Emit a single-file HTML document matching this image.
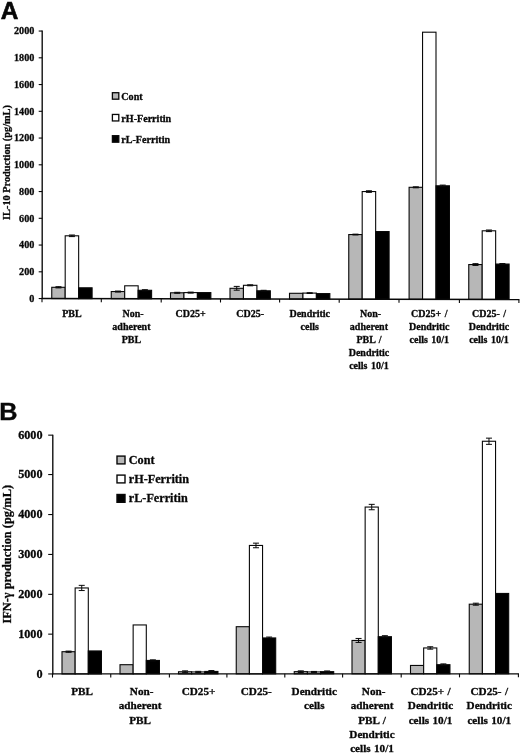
<!DOCTYPE html>
<html><head><meta charset="utf-8"><title>Figure</title>
<style>
html,body{margin:0;padding:0;background:#fff;}
body{width:520px;height:754px;overflow:hidden;font-family:"Liberation Serif",serif;}
svg{display:block;}
text{font-kerning:normal;}
</style></head><body>
<svg width="520" height="754" viewBox="0 0 520 754">
<defs><filter id="soft" x="0" y="0" width="520" height="754" filterUnits="userSpaceOnUse" color-interpolation-filters="sRGB"><feGaussianBlur stdDeviation="0.38"/></filter><filter id="softs" x="0" y="0" width="520" height="754" filterUnits="userSpaceOnUse" color-interpolation-filters="sRGB"><feGaussianBlur stdDeviation="0.22"/></filter></defs>
<rect width="520" height="754" fill="#fff"/>
<g filter="url(#softs)">
<path d="M42.2 30.55V299.05" stroke="#080808" stroke-width="1.35" fill="none"/>
<path d="M38.7 298.55H42.2" stroke="#080808" stroke-width="1.1" fill="none"/>
<path d="M38.7 271.8H42.2" stroke="#080808" stroke-width="1.1" fill="none"/>
<path d="M38.7 245.05H42.2" stroke="#080808" stroke-width="1.1" fill="none"/>
<path d="M38.7 218.3H42.2" stroke="#080808" stroke-width="1.1" fill="none"/>
<path d="M38.7 191.55H42.2" stroke="#080808" stroke-width="1.1" fill="none"/>
<path d="M38.7 164.8H42.2" stroke="#080808" stroke-width="1.1" fill="none"/>
<path d="M38.7 138.05H42.2" stroke="#080808" stroke-width="1.1" fill="none"/>
<path d="M38.7 111.3H42.2" stroke="#080808" stroke-width="1.1" fill="none"/>
<path d="M38.7 84.55H42.2" stroke="#080808" stroke-width="1.1" fill="none"/>
<path d="M38.7 57.8H42.2" stroke="#080808" stroke-width="1.1" fill="none"/>
<path d="M38.7 31.05H42.2" stroke="#080808" stroke-width="1.1" fill="none"/>
<rect x="51.75" y="287.3" width="13.45" height="11.27" fill="#b7b7b7" stroke="#080808" stroke-width="1.1"/>
<rect x="65.2" y="235.8" width="13.45" height="62.8" fill="#fff" stroke="#080808" stroke-width="1.1"/>
<rect x="78.65" y="287.8" width="13.45" height="10.82" fill="#000" stroke="#080808" stroke-width="1.1"/>
<path d="M58.48 286.7V287.9M55.48 286.7H61.48M55.48 287.9H61.48" stroke="#080808" stroke-width="1" fill="none"/>
<path d="M71.92 235V236.6M68.92 235H74.92M68.92 236.6H74.92" stroke="#080808" stroke-width="1" fill="none"/>
<rect x="111.25" y="291.55" width="13.45" height="7.14" fill="#b7b7b7" stroke="#080808" stroke-width="1.1"/>
<rect x="124.7" y="285.8" width="13.45" height="12.91" fill="#fff" stroke="#080808" stroke-width="1.1"/>
<rect x="138.15" y="290.3" width="13.45" height="8.44" fill="#000" stroke="#080808" stroke-width="1.1"/>
<path d="M117.97 291.05V292.05M114.97 291.05H120.97M114.97 292.05H120.97" stroke="#080808" stroke-width="1" fill="none"/>
<path d="M144.88 289.7V290.9M141.88 289.7H147.88M141.88 290.9H147.88" stroke="#080808" stroke-width="1" fill="none"/>
<rect x="170.5" y="292.8" width="13.45" height="6.01" fill="#b7b7b7" stroke="#080808" stroke-width="1.1"/>
<rect x="183.95" y="292.6" width="13.45" height="6.23" fill="#fff" stroke="#080808" stroke-width="1.1"/>
<rect x="197.4" y="292.6" width="13.45" height="6.26" fill="#000" stroke="#080808" stroke-width="1.1"/>
<path d="M177.22 292.3V293.3M174.22 292.3H180.22M174.22 293.3H180.22" stroke="#080808" stroke-width="1" fill="none"/>
<path d="M190.67 292.1V293.1M187.67 292.1H193.67M187.67 293.1H193.67" stroke="#080808" stroke-width="1" fill="none"/>
<rect x="230" y="288.3" width="13.45" height="10.62" fill="#b7b7b7" stroke="#080808" stroke-width="1.1"/>
<rect x="243.45" y="285.3" width="13.45" height="13.65" fill="#fff" stroke="#080808" stroke-width="1.1"/>
<rect x="256.9" y="290.8" width="13.45" height="8.18" fill="#000" stroke="#080808" stroke-width="1.1"/>
<path d="M236.72 286.4V290.2M233.72 286.4H239.72M233.72 290.2H239.72" stroke="#080808" stroke-width="1" fill="none"/>
<path d="M250.17 284.8V285.8M247.17 284.8H253.17M247.17 285.8H253.17" stroke="#080808" stroke-width="1" fill="none"/>
<path d="M263.62 290.3V291.3M260.62 290.3H266.62M260.62 291.3H266.62" stroke="#080808" stroke-width="1" fill="none"/>
<rect x="289.5" y="293.3" width="13.45" height="5.74" fill="#b7b7b7" stroke="#080808" stroke-width="1.1"/>
<rect x="302.95" y="293.1" width="13.45" height="5.97" fill="#fff" stroke="#080808" stroke-width="1.1"/>
<rect x="316.4" y="293.6" width="13.45" height="5.5" fill="#000" stroke="#080808" stroke-width="1.1"/>
<path d="M309.68 292.7V293.5M306.68 292.7H312.68M306.68 293.5H312.68" stroke="#080808" stroke-width="1" fill="none"/>
<rect x="348.75" y="234.55" width="13.45" height="64.61" fill="#b7b7b7" stroke="#080808" stroke-width="1.1"/>
<rect x="362.2" y="191.55" width="13.45" height="107.64" fill="#fff" stroke="#080808" stroke-width="1.1"/>
<rect x="375.65" y="231.55" width="13.45" height="67.66" fill="#000" stroke="#080808" stroke-width="1.1"/>
<path d="M355.48 234.15V234.95M352.48 234.15H358.48M352.48 234.95H358.48" stroke="#080808" stroke-width="1" fill="none"/>
<path d="M368.93 190.75V192.35M365.93 190.75H371.93M365.93 192.35H371.93" stroke="#080808" stroke-width="1" fill="none"/>
<rect x="409.1" y="187.3" width="13.45" height="111.98" fill="#b7b7b7" stroke="#080808" stroke-width="1.1"/>
<rect x="422.55" y="32.2" width="13.45" height="267.11" fill="#fff" stroke="#080808" stroke-width="1.1"/>
<rect x="436" y="185.8" width="13.45" height="113.53" fill="#000" stroke="#080808" stroke-width="1.1"/>
<path d="M415.83 186.8V187.8M412.83 186.8H418.83M412.83 187.8H418.83" stroke="#080808" stroke-width="1" fill="none"/>
<path d="M442.73 185.1V186.5M439.73 185.1H445.73M439.73 186.5H445.73" stroke="#080808" stroke-width="1" fill="none"/>
<rect x="468.75" y="264.55" width="13.45" height="34.85" fill="#b7b7b7" stroke="#080808" stroke-width="1.1"/>
<rect x="482.2" y="230.8" width="13.45" height="68.63" fill="#fff" stroke="#080808" stroke-width="1.1"/>
<rect x="495.65" y="264.05" width="13.45" height="35.4" fill="#000" stroke="#080808" stroke-width="1.1"/>
<path d="M475.48 263.65V265.45M472.48 263.65H478.48M472.48 265.45H478.48" stroke="#080808" stroke-width="1" fill="none"/>
<path d="M488.93 230V231.6M485.93 230H491.93M485.93 231.6H491.93" stroke="#080808" stroke-width="1" fill="none"/>
<path d="M502.38 263.55V264.55M499.38 263.55H505.38M499.38 264.55H505.38" stroke="#080808" stroke-width="1" fill="none"/>
<path d="M41.7 298.55L519.4 299.5" stroke="#080808" stroke-width="1.4" fill="none"/>
<path d="M42 298.55V302.15" stroke="#080808" stroke-width="1.1" fill="none"/>
<path d="M101.3 298.67V302.27" stroke="#080808" stroke-width="1.1" fill="none"/>
<path d="M161.2 298.79V302.39" stroke="#080808" stroke-width="1.1" fill="none"/>
<path d="M220.5 298.9V302.5" stroke="#080808" stroke-width="1.1" fill="none"/>
<path d="M279.6 299.02V302.62" stroke="#080808" stroke-width="1.1" fill="none"/>
<path d="M339.2 299.14V302.74" stroke="#080808" stroke-width="1.1" fill="none"/>
<path d="M399 299.26V302.86" stroke="#080808" stroke-width="1.1" fill="none"/>
<path d="M459.4 299.38V302.98" stroke="#080808" stroke-width="1.1" fill="none"/>
<path d="M518.9 299.5V303.1" stroke="#080808" stroke-width="1.1" fill="none"/>
<rect x="112.4" y="92.7" width="6.4" height="6.5" fill="#b7b7b7" stroke="#080808" stroke-width="1.3"/>
<rect x="112.4" y="114.45" width="6.4" height="6.5" fill="#fff" stroke="#080808" stroke-width="1.3"/>
<rect x="112.4" y="135.7" width="6.4" height="6.5" fill="#000" stroke="#080808" stroke-width="1.3"/>
<path d="M52.8 434.65V674.45" stroke="#080808" stroke-width="1.35" fill="none"/>
<path d="M48.2 673.95H52.8" stroke="#080808" stroke-width="1.1" fill="none"/>
<path d="M48.2 634.15H52.8" stroke="#080808" stroke-width="1.1" fill="none"/>
<path d="M48.2 594.35H52.8" stroke="#080808" stroke-width="1.1" fill="none"/>
<path d="M48.2 554.45H52.8" stroke="#080808" stroke-width="1.1" fill="none"/>
<path d="M48.2 514.55H52.8" stroke="#080808" stroke-width="1.1" fill="none"/>
<path d="M48.2 474.55H52.8" stroke="#080808" stroke-width="1.1" fill="none"/>
<path d="M48.2 435.15H52.8" stroke="#080808" stroke-width="1.1" fill="none"/>
<rect x="62" y="651.7" width="13.15" height="22.25" fill="#b7b7b7" stroke="#080808" stroke-width="1.1"/>
<rect x="75.15" y="587.95" width="13.15" height="85.99" fill="#fff" stroke="#080808" stroke-width="1.1"/>
<rect x="88.3" y="650.95" width="13.15" height="22.98" fill="#000" stroke="#080808" stroke-width="1.1"/>
<path d="M68.58 651.1V652.3M65.58 651.1H71.58M65.58 652.3H71.58" stroke="#080808" stroke-width="1" fill="none"/>
<path d="M81.73 585.35V590.55M78.73 585.35H84.73M78.73 590.55H84.73" stroke="#080808" stroke-width="1" fill="none"/>
<rect x="120" y="664.7" width="13.15" height="9.22" fill="#b7b7b7" stroke="#080808" stroke-width="1.1"/>
<rect x="133.15" y="624.95" width="13.15" height="48.97" fill="#fff" stroke="#080808" stroke-width="1.1"/>
<rect x="146.3" y="660.45" width="13.15" height="13.46" fill="#000" stroke="#080808" stroke-width="1.1"/>
<path d="M152.88 659.85V661.05M149.88 659.85H155.88M149.88 661.05H155.88" stroke="#080808" stroke-width="1" fill="none"/>
<rect x="178.5" y="671.75" width="13.15" height="2.15" fill="#b7b7b7" stroke="#080808" stroke-width="1.1"/>
<rect x="191.65" y="671.95" width="13.15" height="1.94" fill="#fff" stroke="#080808" stroke-width="1.1"/>
<rect x="204.8" y="671.45" width="13.15" height="2.43" fill="#000" stroke="#080808" stroke-width="1.1"/>
<path d="M185.07 670.85V672.65M182.07 670.85H188.07M182.07 672.65H188.07" stroke="#080808" stroke-width="1" fill="none"/>
<path d="M198.22 671.35V672.55M195.22 671.35H201.22M195.22 672.55H201.22" stroke="#080808" stroke-width="1" fill="none"/>
<path d="M211.38 670.55V672.35M208.38 670.55H214.38M208.38 672.35H214.38" stroke="#080808" stroke-width="1" fill="none"/>
<rect x="236.25" y="626.7" width="13.15" height="47.17" fill="#b7b7b7" stroke="#080808" stroke-width="1.1"/>
<rect x="249.4" y="545.45" width="13.15" height="128.42" fill="#fff" stroke="#080808" stroke-width="1.1"/>
<rect x="262.55" y="637.95" width="13.15" height="35.91" fill="#000" stroke="#080808" stroke-width="1.1"/>
<path d="M255.97 543.15V547.75M252.97 543.15H258.98M252.97 547.75H258.98" stroke="#080808" stroke-width="1" fill="none"/>
<path d="M269.12 637.05V638.85M266.12 637.05H272.12M266.12 638.85H272.12" stroke="#080808" stroke-width="1" fill="none"/>
<rect x="294.25" y="671.65" width="13.15" height="2.2" fill="#b7b7b7" stroke="#080808" stroke-width="1.1"/>
<rect x="307.4" y="671.95" width="13.15" height="1.89" fill="#fff" stroke="#080808" stroke-width="1.1"/>
<rect x="320.55" y="671.65" width="13.15" height="2.19" fill="#000" stroke="#080808" stroke-width="1.1"/>
<path d="M300.82 670.85V672.45M297.82 670.85H303.82M297.82 672.45H303.82" stroke="#080808" stroke-width="1" fill="none"/>
<path d="M313.97 671.45V672.45M310.97 671.45H316.97M310.97 672.45H316.97" stroke="#080808" stroke-width="1" fill="none"/>
<path d="M327.12 670.95V672.35M324.12 670.95H330.12M324.12 672.35H330.12" stroke="#080808" stroke-width="1" fill="none"/>
<rect x="352" y="640.45" width="13.15" height="33.37" fill="#b7b7b7" stroke="#080808" stroke-width="1.1"/>
<rect x="365.15" y="507.05" width="13.15" height="166.77" fill="#fff" stroke="#080808" stroke-width="1.1"/>
<rect x="378.3" y="636.7" width="13.15" height="37.11" fill="#000" stroke="#080808" stroke-width="1.1"/>
<path d="M358.57 638.45V642.45M355.57 638.45H361.57M355.57 642.45H361.57" stroke="#080808" stroke-width="1" fill="none"/>
<path d="M371.72 504.35V509.75M368.72 504.35H374.72M368.72 509.75H374.72" stroke="#080808" stroke-width="1" fill="none"/>
<path d="M384.88 635.7V637.7M381.88 635.7H387.88M381.88 637.7H387.88" stroke="#080808" stroke-width="1" fill="none"/>
<rect x="410.5" y="665.45" width="13.15" height="8.35" fill="#b7b7b7" stroke="#080808" stroke-width="1.1"/>
<rect x="423.65" y="647.95" width="13.15" height="25.84" fill="#fff" stroke="#080808" stroke-width="1.1"/>
<rect x="436.8" y="664.7" width="13.15" height="9.09" fill="#000" stroke="#080808" stroke-width="1.1"/>
<path d="M430.22 646.75V649.15M427.22 646.75H433.22M427.22 649.15H433.22" stroke="#080808" stroke-width="1" fill="none"/>
<path d="M443.38 663.9V665.5M440.38 663.9H446.38M440.38 665.5H446.38" stroke="#080808" stroke-width="1" fill="none"/>
<rect x="469.25" y="604.2" width="13.15" height="69.57" fill="#b7b7b7" stroke="#080808" stroke-width="1.1"/>
<rect x="482.4" y="441.25" width="13.15" height="232.52" fill="#fff" stroke="#080808" stroke-width="1.1"/>
<rect x="495.55" y="593.45" width="13.15" height="80.31" fill="#000" stroke="#080808" stroke-width="1.1"/>
<path d="M475.82 603.2V605.2M472.82 603.2H478.82M472.82 605.2H478.82" stroke="#080808" stroke-width="1" fill="none"/>
<path d="M488.97 438.15V444.35M485.97 438.15H491.97M485.97 444.35H491.97" stroke="#080808" stroke-width="1" fill="none"/>
<path d="M52.3 673.95L518.9 673.75" stroke="#080808" stroke-width="1.25" fill="none"/>
<path d="M52.5 673.95V677.55" stroke="#080808" stroke-width="1.1" fill="none"/>
<path d="M110.75 673.93V677.53" stroke="#080808" stroke-width="1.1" fill="none"/>
<path d="M169.4 673.9V677.5" stroke="#080808" stroke-width="1.1" fill="none"/>
<path d="M226.9 673.88V677.48" stroke="#080808" stroke-width="1.1" fill="none"/>
<path d="M284.8 673.85V677.45" stroke="#080808" stroke-width="1.1" fill="none"/>
<path d="M342.6 673.83V677.43" stroke="#080808" stroke-width="1.1" fill="none"/>
<path d="M401.2 673.8V677.4" stroke="#080808" stroke-width="1.1" fill="none"/>
<path d="M459.5 673.78V677.38" stroke="#080808" stroke-width="1.1" fill="none"/>
<path d="M518.4 673.75V677.35" stroke="#080808" stroke-width="1.1" fill="none"/>
<rect x="117.0" y="456.1" width="8.0" height="7.8" fill="#b7b7b7" stroke="#080808" stroke-width="1.4"/>
<rect x="117.0" y="475.1" width="8.0" height="7.8" fill="#fff" stroke="#080808" stroke-width="1.4"/>
<rect x="117.0" y="494.5" width="8.0" height="7.8" fill="#000" stroke="#080808" stroke-width="1.4"/>
</g>
<g filter="url(#soft)">
<text x="0.8" y="19.1" font-size="24.4" font-family="'Liberation Sans', sans-serif" font-weight="bold" fill="#080808" stroke="#080808" stroke-width="0.6">A</text>
<text transform="translate(-0.75 420.2) scale(1.06 1)" font-size="23.8" font-family="'Liberation Sans', sans-serif" font-weight="bold" fill="#080808" stroke="#080808" stroke-width="0.4">B</text>
<text x="34.4" y="301.75" font-size="10.2" text-anchor="end" font-family="'Liberation Serif', serif" font-weight="bold" fill="#080808" stroke="#080808" stroke-width="0.3" >0</text>
<text x="34.4" y="275" font-size="10.2" text-anchor="end" font-family="'Liberation Serif', serif" font-weight="bold" fill="#080808" stroke="#080808" stroke-width="0.3" >200</text>
<text x="34.4" y="248.25" font-size="10.2" text-anchor="end" font-family="'Liberation Serif', serif" font-weight="bold" fill="#080808" stroke="#080808" stroke-width="0.3" >400</text>
<text x="34.4" y="221.5" font-size="10.2" text-anchor="end" font-family="'Liberation Serif', serif" font-weight="bold" fill="#080808" stroke="#080808" stroke-width="0.3" >600</text>
<text x="34.4" y="194.75" font-size="10.2" text-anchor="end" font-family="'Liberation Serif', serif" font-weight="bold" fill="#080808" stroke="#080808" stroke-width="0.3" >800</text>
<text x="34.4" y="168" font-size="10.2" text-anchor="end" font-family="'Liberation Serif', serif" font-weight="bold" fill="#080808" stroke="#080808" stroke-width="0.3" >1000</text>
<text x="34.4" y="141.25" font-size="10.2" text-anchor="end" font-family="'Liberation Serif', serif" font-weight="bold" fill="#080808" stroke="#080808" stroke-width="0.3" >1200</text>
<text x="34.4" y="114.5" font-size="10.2" text-anchor="end" font-family="'Liberation Serif', serif" font-weight="bold" fill="#080808" stroke="#080808" stroke-width="0.3" >1400</text>
<text x="34.4" y="87.75" font-size="10.2" text-anchor="end" font-family="'Liberation Serif', serif" font-weight="bold" fill="#080808" stroke="#080808" stroke-width="0.3" >1600</text>
<text x="34.4" y="61" font-size="10.2" text-anchor="end" font-family="'Liberation Serif', serif" font-weight="bold" fill="#080808" stroke="#080808" stroke-width="0.3" >1800</text>
<text x="34.4" y="34.25" font-size="10.2" text-anchor="end" font-family="'Liberation Serif', serif" font-weight="bold" fill="#080808" stroke="#080808" stroke-width="0.3" >2000</text>
<text x="71.92" y="317.3" font-size="10.0" text-anchor="middle" font-family="'Liberation Serif', serif" font-weight="bold" fill="#080808" stroke="#080808" stroke-width="0.3" word-spacing="0.9">PBL</text>
<text x="133.03" y="317.3" font-size="10.0" text-anchor="middle" font-family="'Liberation Serif', serif" font-weight="bold" fill="#080808" stroke="#080808" stroke-width="0.3" word-spacing="0.9">Non-</text>
<text x="131.43" y="330.3" font-size="10.0" text-anchor="middle" font-family="'Liberation Serif', serif" font-weight="bold" fill="#080808" stroke="#080808" stroke-width="0.3" word-spacing="0.9">adherent</text>
<text x="131.43" y="343.3" font-size="10.0" text-anchor="middle" font-family="'Liberation Serif', serif" font-weight="bold" fill="#080808" stroke="#080808" stroke-width="0.3" word-spacing="0.9">PBL</text>
<text x="190.68" y="317.3" font-size="10.0" text-anchor="middle" font-family="'Liberation Serif', serif" font-weight="bold" fill="#080808" stroke="#080808" stroke-width="0.3" word-spacing="0.9">CD25+</text>
<text x="250.18" y="317.3" font-size="10.0" text-anchor="middle" font-family="'Liberation Serif', serif" font-weight="bold" fill="#080808" stroke="#080808" stroke-width="0.3" word-spacing="0.9">CD25-</text>
<text x="309.68" y="317.3" font-size="10.0" text-anchor="middle" font-family="'Liberation Serif', serif" font-weight="bold" fill="#080808" stroke="#080808" stroke-width="0.3" word-spacing="0.9">Dendritic</text>
<text x="309.68" y="330.3" font-size="10.0" text-anchor="middle" font-family="'Liberation Serif', serif" font-weight="bold" fill="#080808" stroke="#080808" stroke-width="0.3" word-spacing="0.9">cells</text>
<text x="370.53" y="317.3" font-size="10.0" text-anchor="middle" font-family="'Liberation Serif', serif" font-weight="bold" fill="#080808" stroke="#080808" stroke-width="0.3" word-spacing="0.9">Non-</text>
<text x="368.93" y="330.3" font-size="10.0" text-anchor="middle" font-family="'Liberation Serif', serif" font-weight="bold" fill="#080808" stroke="#080808" stroke-width="0.3" word-spacing="0.9">adherent</text>
<text x="368.93" y="343.3" font-size="10.0" text-anchor="middle" font-family="'Liberation Serif', serif" font-weight="bold" fill="#080808" stroke="#080808" stroke-width="0.3" word-spacing="0.9">PBL /</text>
<text x="368.93" y="356.3" font-size="10.0" text-anchor="middle" font-family="'Liberation Serif', serif" font-weight="bold" fill="#080808" stroke="#080808" stroke-width="0.3" word-spacing="0.9">Dendritic</text>
<text x="368.93" y="369.3" font-size="10.0" text-anchor="middle" font-family="'Liberation Serif', serif" font-weight="bold" fill="#080808" stroke="#080808" stroke-width="0.3" word-spacing="0.9">cells 10/1</text>
<text x="429.28" y="317.3" font-size="10.0" text-anchor="middle" font-family="'Liberation Serif', serif" font-weight="bold" fill="#080808" stroke="#080808" stroke-width="0.3" word-spacing="0.9">CD25+ /</text>
<text x="429.28" y="330.3" font-size="10.0" text-anchor="middle" font-family="'Liberation Serif', serif" font-weight="bold" fill="#080808" stroke="#080808" stroke-width="0.3" word-spacing="0.9">Dendritic</text>
<text x="429.28" y="343.3" font-size="10.0" text-anchor="middle" font-family="'Liberation Serif', serif" font-weight="bold" fill="#080808" stroke="#080808" stroke-width="0.3" word-spacing="0.9">cells 10/1</text>
<text x="488.93" y="317.3" font-size="10.0" text-anchor="middle" font-family="'Liberation Serif', serif" font-weight="bold" fill="#080808" stroke="#080808" stroke-width="0.3" word-spacing="0.9">CD25- /</text>
<text x="488.93" y="330.3" font-size="10.0" text-anchor="middle" font-family="'Liberation Serif', serif" font-weight="bold" fill="#080808" stroke="#080808" stroke-width="0.3" word-spacing="0.9">Dendritic</text>
<text x="488.93" y="343.3" font-size="10.0" text-anchor="middle" font-family="'Liberation Serif', serif" font-weight="bold" fill="#080808" stroke="#080808" stroke-width="0.3" word-spacing="0.9">cells 10/1</text>
<text transform="translate(9.7 162.5) rotate(-90)" font-size="10.3" text-anchor="middle" font-family="'Liberation Serif', serif" font-weight="bold" fill="#080808" stroke="#080808" stroke-width="0.3">IL-10 Production (pg/mL)</text>
<text x="121.3" y="99.85" font-size="10.1" text-anchor="start" font-family="'Liberation Serif', serif" font-weight="bold" fill="#080808" stroke="#080808" stroke-width="0.3" >Cont</text>
<text x="121.3" y="121.6" font-size="10.1" text-anchor="start" font-family="'Liberation Serif', serif" font-weight="bold" fill="#080808" stroke="#080808" stroke-width="0.3" >rH-Ferritin</text>
<text x="121.3" y="142.85" font-size="10.1" text-anchor="start" font-family="'Liberation Serif', serif" font-weight="bold" fill="#080808" stroke="#080808" stroke-width="0.3" >rL-Ferritin</text>
<text x="42.5" y="677.55" font-size="12.2" text-anchor="end" font-family="'Liberation Serif', serif" font-weight="bold" fill="#080808" stroke="#080808" stroke-width="0.3" >0</text>
<text x="42.5" y="637.75" font-size="12.2" text-anchor="end" font-family="'Liberation Serif', serif" font-weight="bold" fill="#080808" stroke="#080808" stroke-width="0.3" >1000</text>
<text x="42.5" y="597.95" font-size="12.2" text-anchor="end" font-family="'Liberation Serif', serif" font-weight="bold" fill="#080808" stroke="#080808" stroke-width="0.3" >2000</text>
<text x="42.5" y="558.05" font-size="12.2" text-anchor="end" font-family="'Liberation Serif', serif" font-weight="bold" fill="#080808" stroke="#080808" stroke-width="0.3" >3000</text>
<text x="42.5" y="518.15" font-size="12.2" text-anchor="end" font-family="'Liberation Serif', serif" font-weight="bold" fill="#080808" stroke="#080808" stroke-width="0.3" >4000</text>
<text x="42.5" y="478.15" font-size="12.2" text-anchor="end" font-family="'Liberation Serif', serif" font-weight="bold" fill="#080808" stroke="#080808" stroke-width="0.3" >5000</text>
<text x="42.5" y="438.75" font-size="12.2" text-anchor="end" font-family="'Liberation Serif', serif" font-weight="bold" fill="#080808" stroke="#080808" stroke-width="0.3" >6000</text>
<text x="82.02" y="694.6" font-size="11.2" text-anchor="middle" font-family="'Liberation Serif', serif" font-weight="bold" fill="#080808" stroke="#080808" stroke-width="0.3" word-spacing="0.6">PBL</text>
<text x="141.62" y="694.6" font-size="11.2" text-anchor="middle" font-family="'Liberation Serif', serif" font-weight="bold" fill="#080808" stroke="#080808" stroke-width="0.3" word-spacing="0.6">Non-</text>
<text x="140.03" y="709.05" font-size="11.2" text-anchor="middle" font-family="'Liberation Serif', serif" font-weight="bold" fill="#080808" stroke="#080808" stroke-width="0.3" word-spacing="0.6">adherent</text>
<text x="140.03" y="723.5" font-size="11.2" text-anchor="middle" font-family="'Liberation Serif', serif" font-weight="bold" fill="#080808" stroke="#080808" stroke-width="0.3" word-spacing="0.6">PBL</text>
<text x="198.53" y="694.6" font-size="11.2" text-anchor="middle" font-family="'Liberation Serif', serif" font-weight="bold" fill="#080808" stroke="#080808" stroke-width="0.3" word-spacing="0.6">CD25+</text>
<text x="256.27" y="694.6" font-size="11.2" text-anchor="middle" font-family="'Liberation Serif', serif" font-weight="bold" fill="#080808" stroke="#080808" stroke-width="0.3" word-spacing="0.6">CD25-</text>
<text x="314.28" y="694.6" font-size="11.2" text-anchor="middle" font-family="'Liberation Serif', serif" font-weight="bold" fill="#080808" stroke="#080808" stroke-width="0.3" word-spacing="0.6">Dendritic</text>
<text x="314.28" y="709.05" font-size="11.2" text-anchor="middle" font-family="'Liberation Serif', serif" font-weight="bold" fill="#080808" stroke="#080808" stroke-width="0.3" word-spacing="0.6">cells</text>
<text x="373.63" y="694.6" font-size="11.2" text-anchor="middle" font-family="'Liberation Serif', serif" font-weight="bold" fill="#080808" stroke="#080808" stroke-width="0.3" word-spacing="0.6">Non-</text>
<text x="372.03" y="709.05" font-size="11.2" text-anchor="middle" font-family="'Liberation Serif', serif" font-weight="bold" fill="#080808" stroke="#080808" stroke-width="0.3" word-spacing="0.6">adherent</text>
<text x="372.03" y="723.5" font-size="11.2" text-anchor="middle" font-family="'Liberation Serif', serif" font-weight="bold" fill="#080808" stroke="#080808" stroke-width="0.3" word-spacing="0.6">PBL /</text>
<text x="372.03" y="737.95" font-size="11.2" text-anchor="middle" font-family="'Liberation Serif', serif" font-weight="bold" fill="#080808" stroke="#080808" stroke-width="0.3" word-spacing="0.6">Dendritic</text>
<text x="372.03" y="752.4" font-size="11.2" text-anchor="middle" font-family="'Liberation Serif', serif" font-weight="bold" fill="#080808" stroke="#080808" stroke-width="0.3" word-spacing="0.6">cells 10/1</text>
<text x="430.53" y="694.6" font-size="11.2" text-anchor="middle" font-family="'Liberation Serif', serif" font-weight="bold" fill="#080808" stroke="#080808" stroke-width="0.3" word-spacing="0.6">CD25+ /</text>
<text x="430.53" y="709.05" font-size="11.2" text-anchor="middle" font-family="'Liberation Serif', serif" font-weight="bold" fill="#080808" stroke="#080808" stroke-width="0.3" word-spacing="0.6">Dendritic</text>
<text x="430.53" y="723.5" font-size="11.2" text-anchor="middle" font-family="'Liberation Serif', serif" font-weight="bold" fill="#080808" stroke="#080808" stroke-width="0.3" word-spacing="0.6">cells 10/1</text>
<text x="489.28" y="694.6" font-size="11.2" text-anchor="middle" font-family="'Liberation Serif', serif" font-weight="bold" fill="#080808" stroke="#080808" stroke-width="0.3" word-spacing="0.6">CD25- /</text>
<text x="489.28" y="709.05" font-size="11.2" text-anchor="middle" font-family="'Liberation Serif', serif" font-weight="bold" fill="#080808" stroke="#080808" stroke-width="0.3" word-spacing="0.6">Dendritic</text>
<text x="489.28" y="723.5" font-size="11.2" text-anchor="middle" font-family="'Liberation Serif', serif" font-weight="bold" fill="#080808" stroke="#080808" stroke-width="0.3" word-spacing="0.6">cells 10/1</text>
<text transform="translate(11.3 554.3) rotate(-90)" font-size="12.35" text-anchor="middle" font-family="'Liberation Serif', serif" font-weight="bold" fill="#080808" stroke="#080808" stroke-width="0.3">IFN-γ production (pg/mL)</text>
<text x="128.8" y="464" font-size="12.2" text-anchor="start" font-family="'Liberation Serif', serif" font-weight="bold" fill="#080808" stroke="#080808" stroke-width="0.3" >Cont</text>
<text x="128.8" y="483" font-size="12.2" text-anchor="start" font-family="'Liberation Serif', serif" font-weight="bold" fill="#080808" stroke="#080808" stroke-width="0.3" >rH-Ferritin</text>
<text x="128.8" y="502.4" font-size="12.2" text-anchor="start" font-family="'Liberation Serif', serif" font-weight="bold" fill="#080808" stroke="#080808" stroke-width="0.3" >rL-Ferritin</text>
</g></svg></body></html>
